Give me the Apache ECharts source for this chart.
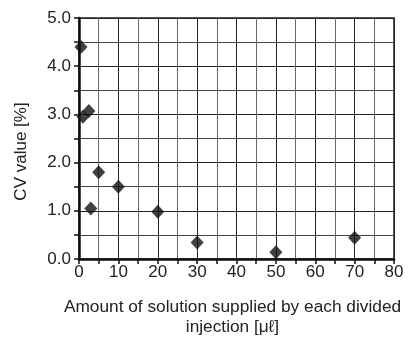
<!DOCTYPE html>
<html>
<head>
<meta charset="utf-8">
<script src="https://cdn.jsdelivr.net/npm/echarts@6/dist/echarts.min.js"></script>
<style>
  html, body { margin: 0; padding: 0; background: #fff; }
  #chart { width: 408px; height: 337px; }
</style>
</head>
<body>
<div id="chart"></div>
<script>
// amount supplied per divided injection [µl] vs CV [%]
const amounts = [0.5, 1, 2.5, 3, 5, 10, 20, 30, 50, 70];
const cvValues = [4.4, 2.95, 3.07, 1.05, 1.8, 1.5, 0.98, 0.34, 0.14, 0.44];

const xTitle = 'Amount of solution supplied by each divided\ninjection [\u03bc\u2113]';
const yTitle = 'CV value [%]';

const chart = echarts.init(document.getElementById('chart'));
const font = 'Liberation Sans, Arial, sans-serif';

chart.setOption({
  animation: false,
  grid: {
    left: 79, right: 14, top: 18, bottom: 78,
    outerBoundsMode: 'none',
    show: true, borderColor: '#222', borderWidth: 1.5
  },
  xAxis: {
    type: 'value',
    min: 0, max: 80, interval: 10,
    name: xTitle,
    nameLocation: 'middle',
    nameGap: 38,
    nameTextStyle: { fontFamily: font, fontSize: 17.3, color: '#222', lineHeight: 20, padding: [0, 8, 0, 0] },
    axisLine: { lineStyle: { color: '#111', width: 2.5 } },
    axisTick: { show: true, length: 5, lineStyle: { color: '#111', width: 1.5 } },
    minorTick: { show: true, splitNumber: 2, length: 5, lineStyle: { color: '#111', width: 1.5 } },
    axisLabel: { fontFamily: font, fontSize: 17, color: '#222', margin: 5 },
    splitLine: { show: true, lineStyle: { color: '#222', width: 1 } },
    minorSplitLine: { show: true, lineStyle: { color: '#666', width: 1 } }
  },
  yAxis: {
    type: 'value',
    min: 0, max: 5, interval: 1,
    name: yTitle,
    nameLocation: 'middle',
    nameGap: 49,
    nameTextStyle: { fontFamily: font, fontSize: 17, color: '#222', padding: [0, 26, 0, 0] },
    axisLine: { show: true, lineStyle: { color: '#111', width: 2.5 } },
    axisTick: { show: true, length: 5, lineStyle: { color: '#111', width: 1.5 } },
    minorTick: { show: true, splitNumber: 2, length: 5, lineStyle: { color: '#111', width: 1.5 } },
    axisLabel: {
      fontFamily: font, fontSize: 17, color: '#222', margin: 8,
      formatter: v => v.toFixed(1)
    },
    splitLine: { show: true, lineStyle: { color: '#222', width: 1 } },
    minorSplitLine: { show: true, lineStyle: { color: '#444', width: 1 } }
  },
  series: [{
    type: 'scatter',
    data: amounts.map((a, i) => [a, cvValues[i]]),
    symbol: 'diamond',
    symbolSize: [13, 14],
    itemStyle: { color: '#111' },
    clip: false
  }]
});
</script>
</body>
</html>
